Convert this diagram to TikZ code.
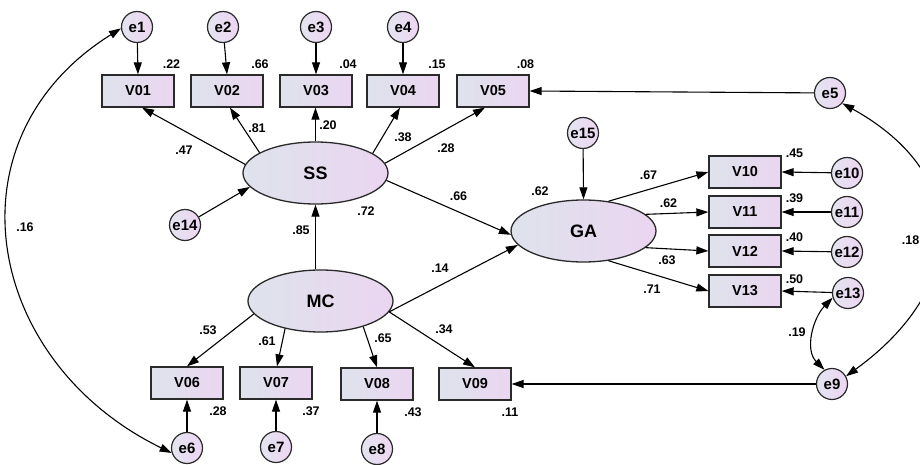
\documentclass[tikz,border=0pt]{standalone}
\usepackage{fontspec}
\setmainfont{Liberation Sans}
\usetikzlibrary{arrows.meta,calc,shapes.geometric}
\definecolor{boxL}{HTML}{DEE3EC}
\definecolor{boxR}{HTML}{EBD5F1}
\definecolor{cirL}{HTML}{E4E4F0}
\definecolor{cirR}{HTML}{EDD6F2}
\definecolor{lineC}{HTML}{2A2A2A}
\tikzset{
  obs/.style={rectangle, draw=lineC, line width=1.3pt, left color=boxL, right color=boxR,
    minimum width=72pt, minimum height=32pt, inner sep=0pt,
    font=\bfseries\fontsize{14.5}{14.5}\selectfont},
  lat/.style={ellipse, draw=lineC, line width=1.3pt, left color=boxL, right color=boxR,
    minimum width=145pt, minimum height=62pt, inner sep=0pt,
    font=\bfseries\fontsize{18}{18}\selectfont},
  err/.style={circle, draw=lineC, line width=1.2pt, left color=cirL, right color=cirR,
    minimum size=31pt, inner sep=0pt, font=\bfseries\fontsize{15}{15}\selectfont},
  coef/.style={inner sep=0pt, font=\bfseries\fontsize{12.5}{12.5}\selectfont},
  arr/.style={draw=black, line width=1.1pt, -{Triangle[length=12pt,width=8pt]}},
  dbl/.style={draw=black, line width=1.1pt, {Triangle[length=12pt,width=8pt]}-{Triangle[length=12pt,width=8pt]}}
}
\begin{document}
\begin{tikzpicture}[x=1pt,y=-1pt]
\useasboundingbox (0,0) rectangle (920,465);
% error terms top
\node[err] (e1) at (137,27) {e1};
\node[err] (e2) at (223,27) {e2};
\node[err] (e3) at (316,27) {e3};
\node[err] (e4) at (403,27) {e4};
% top indicators
\node[obs] (V01) at (138,91) {V01};
\node[obs] (V02) at (227,91) {V02};
\node[obs] (V03) at (316,91) {V03};
\node[obs] (V04) at (403,91) {V04};
\node[obs] (V05) at (493,91) {V05};
% latents
\node[lat] (SS) at (315.5,173) {SS};
\node[lat] (MC) at (320.5,301) {MC};
\node[lat] (GA) at (583.5,231) {GA};
% other errors
\node[err] (e14) at (185,225) {e14};
\node[err] (e15) at (583,133) {e15};
\node[err] (e5) at (830,93) {e5};
% GA indicators
\node[obs] (V10) at (745,172) {V10};
\node[obs] (V11) at (745,212) {V11};
\node[obs] (V12) at (745,251) {V12};
\node[obs] (V13) at (745,291) {V13};
\node[err] (e10) at (847,173) {e10};
\node[err] (e11) at (847,212) {e11};
\node[err] (e12) at (847,252) {e12};
\node[err] (e13) at (848,293) {e13};
\node[err] (e9) at (832,384) {e9};
% MC indicators
\node[obs] (V06) at (187,383) {V06};
\node[obs] (V07) at (276,383) {V07};
\node[obs] (V08) at (377,384) {V08};
\node[obs] (V09) at (475,384) {V09};
\node[err] (e6) at (187,448) {e6};
\node[err] (e7) at (276,447) {e7};
\node[err] (e8) at (377,449) {e8};

% arrows errors -> top indicators
\draw[arr] (e1) -- (V01.north);
\draw[arr] (e2) -- (V02.north);
\draw[arr] (e3) -- (V03.north);
\draw[arr] (e4) -- (V04.north);
% SS loadings
\draw[arr] (SS.173) -- ($(V01.south)+(4,0)$);
\draw[arr] (SS.160) -- ($(V02.south)+(3,0)$);
\draw[arr] (SS.north) -- (SS.north |- V03.south);
\draw[arr] (SS.19) -- ($(V04.south)+(-3,0)$);
\draw[arr] (SS.8) -- ($(V05.south)+(-8,0)$);
% structural
\draw[arr] (e14) -- (SS.192);
\draw[arr] (SS.south |- MC.north) -- (SS.south);
\draw[arr] (SS.-6) -- (GA.183);
\draw[arr] (MC.-9) -- (GA.192);
\draw[arr] (e15) -- (GA.north);
% GA loadings
\draw[arr] (GA.50) -- (V10.west);
\draw[arr] (GA.15) -- (V11.west);
\draw[arr] (GA.-15) -- (V12.west);
\draw[arr] (GA.-50) -- (V13.west);
\draw[arr] (e10) -- (V10.east);
\draw[arr] (e11) -- (V11.east);
\draw[arr] (e12) -- (V12.east);
\draw[arr] (e13) -- (V13.east);
% MC loadings
\draw[arr] (MC.191) -- (V06.north);
\draw[arr] (MC.218) -- ($(V07.north)+(1,0)$);
\draw[arr] (MC.-31) -- (V08.north);
\draw[arr] (MC.-9) -- (V09.north);
\draw[arr] (e6) -- (V06.south);
\draw[arr] (e7) -- (V07.south);
\draw[arr] (e8) -- (V08.south);
% long error paths
\draw[arr] (e5) -- (V05.east);
\draw[arr] (e9) -- (V09.east);
% covariances
\draw[dbl] (e1.185) to[out=212,in=154,looseness=1.25] (e6.198);
\draw[dbl] (e5.-40) to[out=-29,in=36,looseness=1.4] (e9.29);
\draw[dbl] (e13.197) to[out=226,in=135,looseness=1] (e9.118);

% coefficients
\node[coef] at (171.5,64.5) {.22};
\node[coef] at (260,64.5) {.66};
\node[coef] at (348,64.5) {.04};
\node[coef] at (437,64.5) {.15};
\node[coef] at (525.5,64.5) {.08};
\node[coef] at (184,150) {.47};
\node[coef] at (257,128) {.81};
\node[coef] at (328,125) {.20};
\node[coef] at (403,137) {.38};
\node[coef] at (446,148) {.28};
\node[coef] at (458.5,196) {.66};
\node[coef] at (366,211) {.72};
\node[coef] at (301,230) {.85};
\node[coef] at (440,268) {.14};
\node[coef] at (540,191) {.62};
\node[coef] at (648.5,175) {.67};
\node[coef] at (668.5,203) {.62};
\node[coef] at (667,260) {.63};
\node[coef] at (652,289) {.71};
\node[coef] at (794.5,153) {.45};
\node[coef] at (794.5,198) {.39};
\node[coef] at (794.5,237) {.40};
\node[coef] at (794.5,279) {.50};
\node[coef] at (797,332) {.19};
\node[coef] at (25,227) {.16};
\node[coef, anchor=east] at (919.5,240) {.18};
\node[coef] at (208,330) {.53};
\node[coef] at (267,341) {.61};
\node[coef] at (383,338) {.65};
\node[coef] at (444,329) {.34};
\node[coef] at (218,411) {.28};
\node[coef] at (311,411) {.37};
\node[coef] at (413,412) {.43};
\node[coef] at (510,412) {.11};
\end{tikzpicture}
\end{document}
